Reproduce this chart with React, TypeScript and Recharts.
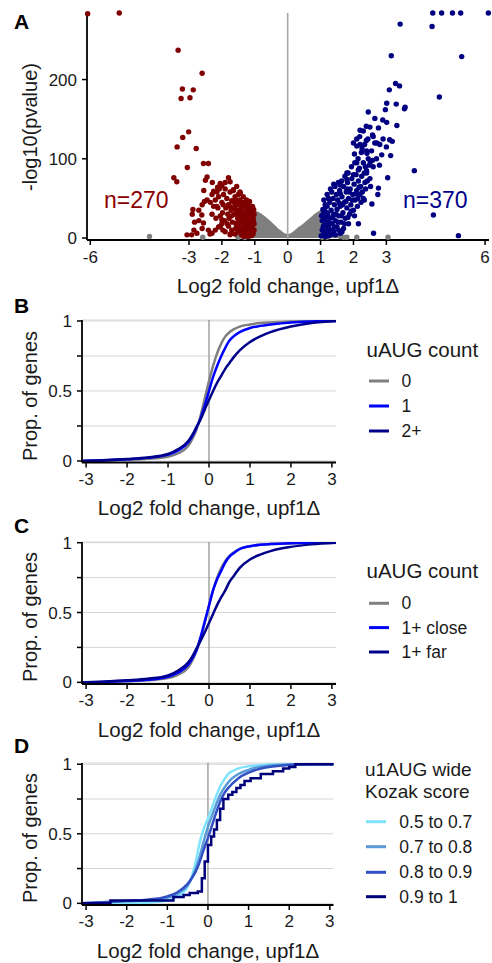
import React from "react";
import {
  ComposedChart,
  LineChart,
  Line,
  Area,
  Scatter,
  XAxis,
  YAxis,
  CartesianGrid,
  ReferenceLine,
} from "recharts";

// ---------- data: panel A (volcano) ----------
const volcanoTicksX = [-6, -3, -2, -1, 0, 1, 2, 3, 6];
const volcanoTicksY = [0, 100, 200];

// dense grey core of non-significant genes: upper edge of the cloud
const coreX = [-1.6, -1.35, -1.15, -1.05, -0.95, -0.85, -0.75, -0.65, -0.55, -0.45, -0.35, -0.25, -0.15, -0.05, 0, 0.05, 0.15, 0.25, 0.35, 0.45, 0.55, 0.65, 0.75, 0.85, 0.95, 1.05, 1.15, 1.35, 1.6];
const coreY = [2, 6, 35, 34, 32, 30, 27, 23.5, 20, 16, 12, 8.5, 5.5, 3.5, 3, 3.5, 5.5, 8.5, 12, 15, 18.5, 22, 25.5, 29, 32, 34, 35, 5, 2];

const greyGenes = [
  [-4.2, 2], [-2.58, 1], [-1.5, 1], [-1.3, 0.5], [1.05, 1], [1.2, 1], [1.6, 2],
  [1.7, 1], [1.8, 1], [2.1, 1], [3.05, 1],
];

const downGenes = [
  [-6.08, 283], [-5.12, 284], [-3.33, 237], [-2.6, 208], [-3.2, 188], [-2.87, 187],
  [-3.24, 176], [-2.97, 177], [-3.01, 134], [-3.19, 127], [-3.36, 115], [-2.78, 113],
  [-3.05, 89], [-3.46, 76], [-3.37, 71], [-2.56, 94], [-2.41, 94], [-2.88, 36],
  [-2.83, 20], [-2.92, 4], [-3.06, 4], [-2.76, 6], [-2.61, 29], [-2.56, 19], [-2.41, 10],
  [-2.36, 5], [-2.53, 46], [-2.45, 77], [-2.5, 73], [-2.29, 70], [-2.05, 69],
  [-1.8, 76], [-1.75, 71], [-2.13, 64], [-2.25, 59], [-1.97, 10], [-1.75, 4],
  [-2.0, 23], [-2.05, 15], [-2.15, 40], [-1.44, 57], [-1.65, 61],
  [-2.2, 48], [-2.1, 52], [-2.0, 45], [-1.95, 55], [-1.9, 62], [-1.85, 50], [-1.8, 42],
  [-1.75, 58], [-1.7, 47], [-1.65, 38], [-1.6, 52], [-1.55, 44], [-1.5, 35], [-1.5, 55],
  [-1.45, 28], [-1.45, 48], [-1.4, 40], [-1.4, 20], [-1.35, 33], [-1.35, 52], [-1.3, 25],
  [-1.3, 44], [-1.25, 15], [-1.25, 37], [-1.2, 30], [-1.2, 8], [-1.15, 22], [-1.15, 40],
  [-1.1, 12], [-1.1, 32], [-1.05, 5], [-1.05, 25], [-1.02, 18], [-1.08, 28], [-1.12, 35],
  [-1.18, 18], [-1.22, 26], [-1.28, 10], [-1.32, 18], [-1.38, 12], [-1.42, 30], [-1.48, 18],
  [-1.52, 25], [-1.58, 12], [-1.62, 30], [-1.68, 20], [-1.72, 35], [-1.78, 25], [-1.82, 30],
  [-1.88, 38], [-1.92, 22], [-1.98, 32], [-2.05, 28], [-2.12, 38], [-2.18, 25], [-2.25, 40],
  [-2.3, 30], [-2.35, 45], [-2.45, 48], [-2.55, 60], [-2.6, 42], [-2.7, 35], [-1.6, 5],
  [-1.5, 8], [-1.4, 4], [-1.3, 3], [-1.2, 2], [-1.1, 3], [-1.7, 10], [-1.8, 15], [-1.9, 8],
  [-2.0, 18], [-2.1, 14], [-2.2, 10], [-2.3, 6], [-1.35, 40], [-1.25, 48], [-1.15, 10],
  [-1.45, 58], [-1.55, 65], [-1.65, 60], [-1.9, 70], [-2.0, 66], [-2.15, 58], [-2.3, 55],
  [-1.02, 30], [-1.06, 12], [-1.12, 20], [-1.18, 42], [-1.24, 5], [-1.32, 28], [-1.38, 45],
  [-1.44, 8], [-1.56, 35], [-1.64, 45], [-1.74, 5], [-1.84, 18], [-1.96, 42], [-2.08, 62],
  [-1.05, 8], [-1.08, 20], [-1.1, 26], [-1.12, 15], [-1.15, 30], [-1.18, 24], [-1.2, 12],
  [-1.22, 36], [-1.25, 20], [-1.28, 32], [-1.3, 14], [-1.33, 22], [-1.36, 8], [-1.4, 26],
  [-1.43, 36], [-1.46, 14], [-1.5, 22], [-1.53, 30], [-1.57, 18], [-1.6, 40], [-1.03, 36],
  [-1.07, 40], [-1.16, 46], [-1.26, 42], [-1.02, 10], [-1.04, 22], [-1.14, 4], [-1.34, 2],
  [-1.48, 42], [-1.58, 48], [-1.7, 28], [-1.76, 40], [-2.6, 12], [-2.7, 22], [-2.9, 30],
  [-2.85, 10],
];

const upGenes = [
  [4.41, 284], [4.68, 284], [5.01, 284], [5.26, 284], [6.1, 284], [4.39, 267], [3.42, 270],
  [5.29, 229], [3.15, 230], [4.61, 178], [3.28, 195], [3.4, 192], [3.09, 187], [3.01, 170],
  [3.3, 169], [3.57, 165], [3.55, 163], [2.97, 162], [2.45, 159], [2.65, 151], [2.89, 149],
  [3.01, 146], [3.32, 142], [2.76, 139], [2.39, 141], [2.2, 136], [2.58, 130], [3.1, 124],
  [3.18, 122], [2.71, 120], [2.39, 123], [2.19, 128], [2.1, 116], [2.26, 113], [2.03, 106],
  [2.41, 107], [2.86, 105], [3.13, 104], [3.85, 85], [2.79, 92], [2.51, 96], [2.36, 90],
  [2.1, 95], [2.15, 86], [3.04, 76], [2.4, 82], [2.0, 80], [1.8, 82], [1.8, 74], [2.76, 63],
  [2.74, 55], [2.33, 48], [2.56, 43], [1.6, 67], [4.43, 29], [5.19, 3], [2.61, 6], [2.15, 18],
  [1.02, 3], [1.05, 10], [1.05, 22], [1.08, 30], [1.1, 5], [1.1, 16], [1.12, 36], [1.15, 26],
  [1.18, 8], [1.2, 20], [1.2, 40], [1.22, 30], [1.25, 12], [1.28, 45], [1.3, 25], [1.3, 4],
  [1.32, 35], [1.35, 18], [1.38, 50], [1.4, 8], [1.4, 30], [1.42, 42], [1.45, 22], [1.48, 55],
  [1.5, 14], [1.5, 36], [1.52, 48], [1.55, 28], [1.58, 60], [1.6, 6], [1.6, 40], [1.62, 20],
  [1.65, 52], [1.68, 32], [1.7, 65], [1.7, 12], [1.72, 45], [1.75, 25], [1.78, 58], [1.8, 38],
  [1.82, 70], [1.85, 18], [1.85, 50], [1.88, 30], [1.9, 62], [1.92, 42], [1.95, 75], [1.98, 55],
  [2.0, 35], [2.02, 68], [2.05, 48], [2.08, 80], [2.1, 60], [2.12, 40], [2.15, 72], [2.18, 88],
  [2.2, 55], [2.22, 65], [2.25, 78], [2.3, 95], [2.3, 50], [2.35, 70], [2.4, 85], [2.45, 100],
  [2.5, 75], [2.55, 110], [2.6, 90], [1.15, 2], [1.25, 3], [1.35, 6], [1.45, 4], [1.55, 10],
  [1.65, 8], [1.08, 14], [1.12, 24], [1.18, 32], [1.22, 14], [1.28, 18], [1.33, 10], [1.37, 26],
  [1.43, 14], [1.47, 30], [1.53, 20], [1.57, 44], [1.63, 28], [1.67, 42], [1.73, 18], [1.77, 46],
  [1.83, 26], [1.87, 58], [1.93, 34], [1.97, 48], [2.03, 28], [2.07, 56], [2.13, 50], [2.17, 64],
  [2.23, 45], [2.27, 58], [2.33, 82], [2.37, 62], [2.42, 72], [2.48, 92], [2.52, 65], [2.58, 98],
  [2.65, 120], [2.7, 100], [2.8, 118], [1.03, 28], [1.07, 36], [1.14, 42], [1.24, 50], [1.34, 58],
  [1.44, 65], [1.54, 70], [1.64, 72], [1.74, 78], [1.84, 82], [1.94, 90], [2.04, 95], [2.14, 100],
  [2.24, 108], [2.34, 118], [2.44, 125], [1.1, 48], [1.2, 55], [1.3, 62], [1.4, 68], [1.6, 56],
  [1.8, 62], [2.0, 120], [2.1, 125], [2.2, 118], [2.3, 135], [2.4, 110], [2.5, 140], [2.6, 128],
  [2.9, 125], [3.0, 115],
];

const downLabel = "n=270";
const upLabel = "n=370";

// ---------- data: panels B-D (cumulative distributions) ----------
const cdfTicksX = [-3, -2, -1, 0, 1, 2, 3];
const cdfTicksY = [0, 0.25, 0.5, 0.75, 1];
const cdfX = [-3.1, -2.5, -2, -1.5, -1, -0.75, -0.5, -0.4, -0.3, -0.2, -0.1, 0, 0.1, 0.2, 0.3, 0.4, 0.5, 0.6, 0.75, 1, 1.25, 1.5, 2, 2.5, 3.1];

const bGroups = ["0", "1", "2+"];
const bZero = [0, 0.003, 0.008, 0.015, 0.03, 0.055, 0.11, 0.16, 0.23, 0.33, 0.45, 0.57, 0.68, 0.77, 0.84, 0.89, 0.92, 0.94, 0.96, 0.975, 0.985, 0.99, 0.996, 0.999, 1];
const bOne = [0, 0.005, 0.012, 0.022, 0.045, 0.075, 0.135, 0.18, 0.24, 0.31, 0.4, 0.5, 0.6, 0.68, 0.75, 0.81, 0.86, 0.89, 0.92, 0.95, 0.965, 0.975, 0.99, 0.997, 1];
const bTwoPlus = [0, 0.006, 0.014, 0.025, 0.05, 0.085, 0.145, 0.19, 0.245, 0.3, 0.37, 0.435, 0.5, 0.56, 0.61, 0.66, 0.7, 0.74, 0.79, 0.85, 0.89, 0.92, 0.96, 0.985, 1];

const cGroups = ["0", "1+ close", "1+ far"];
const cZero = [0, 0.003, 0.008, 0.015, 0.03, 0.055, 0.11, 0.16, 0.23, 0.32, 0.43, 0.55, 0.66, 0.75, 0.82, 0.87, 0.905, 0.93, 0.955, 0.975, 0.985, 0.99, 0.996, 0.999, 1];
const cClose = [0, 0.004, 0.01, 0.018, 0.04, 0.07, 0.13, 0.175, 0.235, 0.33, 0.44, 0.55, 0.66, 0.74, 0.8, 0.86, 0.9, 0.925, 0.955, 0.975, 0.985, 0.99, 0.996, 0.999, 1];
const cFar = [0, 0.006, 0.014, 0.025, 0.05, 0.085, 0.145, 0.19, 0.245, 0.3, 0.36, 0.425, 0.49, 0.555, 0.61, 0.66, 0.72, 0.76, 0.82, 0.88, 0.915, 0.94, 0.97, 0.988, 1];

const dGroups = ["0.5 to 0.7", "0.7 to 0.8", "0.8 to 0.9", "0.9 to 1"];
const dLow = [0, 0, 0, 0.005, 0.02, 0.05, 0.12, 0.19, 0.3, 0.44, 0.54, 0.61, 0.69, 0.77, 0.84, 0.89, 0.93, 0.95, 0.97, 0.985, 0.993, 0.998, 1, 1, 1];
const dMid = [0, 0.008, 0.015, 0.022, 0.04, 0.07, 0.13, 0.18, 0.25, 0.34, 0.45, 0.55, 0.63, 0.71, 0.78, 0.83, 0.87, 0.9, 0.93, 0.96, 0.98, 0.99, 0.998, 1, 1];
const dHigh = [0, 0.01, 0.018, 0.026, 0.05, 0.08, 0.14, 0.18, 0.23, 0.3, 0.39, 0.47, 0.56, 0.65, 0.73, 0.79, 0.83, 0.86, 0.9, 0.94, 0.965, 0.98, 0.995, 1, 1];
// the strongest Kozak group is small, so its curve is a visible step function
const dTopX = [-3.1, -2.4, -0.85, -0.6, -0.45, -0.25, -0.15, -0.08, 0, 0.08, 0.15, 0.22, 0.3, 0.38, 0.5, 0.6, 0.7, 0.8, 0.9, 1.05, 1.3, 1.6, 1.85, 2.0, 2.15, 3.1];
const dTopY = [0, 0.02, 0.045, 0.06, 0.075, 0.085, 0.18, 0.3, 0.42, 0.48, 0.53, 0.6, 0.68, 0.75, 0.78, 0.8, 0.83, 0.85, 0.88, 0.9, 0.93, 0.95, 0.97, 0.98, 1, 1];

// ---------- styles ----------
const FONT = "'Liberation Sans', Arial, Helvetica, sans-serif";
const TEXT = "#1a1a1a";
const GREY = "#7f7f7f";
const RED = "#800000";
const NAVY = "#000080";
const bColors = [GREY, "#0000ff", "#00008b"];
const cColors = [GREY, "#0000ff", "#00008b"];
const dColors = ["#80e4ff", "#5a9ad6", "#3050c4", "#00007a"];

const axisLine = { stroke: "#000", strokeWidth: 1.8 };
const tickLine = { stroke: "#000", strokeWidth: 1.5 };
const tickText = { fontSize: 17, fill: TEXT, fontFamily: FONT };

const dot = (color: string) => (p: any) =>
  <circle cx={p.cx} cy={p.cy} r={2.7} fill={color} />;

const toPoints = (pairs: number[][]) => pairs.map(([x, y]) => ({ x, y }));

const coreRows = coreX.map((x, i) => ({ x, y: coreY[i] }));

const rowsFrom = (cols: number[][]) =>
  cdfX.map((x, i) => {
    const row: any = { x };
    cols.forEach((c, k) => (row["s" + k] = c[i]));
    return row;
  });

const cdfLabel = (v: number) => (v === 0.25 || v === 0.75 ? "" : String(v));

function Volcano() {
  return (
    <ComposedChart
      width={492}
      height={300}
      data={coreRows}
      margin={{ top: 13, right: 3, bottom: 0, left: 27 }}
      style={{ fontFamily: FONT }}
    >
      <XAxis
        dataKey="x"
        type="number"
        domain={[-6.1, 6.12]}
        ticks={volcanoTicksX}
        interval={0}
        height={60}
        tickSize={5}
        tickMargin={6}
        axisLine={axisLine}
        tickLine={tickLine}
        tick={tickText}
      />
      <YAxis
        dataKey="y"
        type="number"
        domain={[-2.5, 284]}
        ticks={volcanoTicksY}
        interval={0}
        width={60}
        tickSize={5}
        tickMargin={5}
        axisLine={axisLine}
        tickLine={tickLine}
        tick={tickText}
      />
      <ReferenceLine x={0} stroke="#a8a8a8" strokeWidth={1.6} />
      <Area
        dataKey="y"
        type="monotone"
        baseValue={0}
        fill={GREY}
        fillOpacity={1}
        stroke={GREY}
        strokeWidth={3}
        isAnimationActive={false}
      />
      <Scatter data={toPoints(greyGenes)} shape={dot(GREY)} isAnimationActive={false} />
      <Scatter data={toPoints(downGenes)} shape={dot(RED)} isAnimationActive={false} />
      <Scatter data={toPoints(upGenes)} shape={dot(NAVY)} isAnimationActive={false} />
    </ComposedChart>
  );
}

function CdfPanel(props: {
  height: number;
  top: number;
  right: number;
  xAxisHeight: number;
  xDomain: number[];
  yDomain: number[];
  cols: number[][];
  colors: string[];
  step?: { x: number[]; y: number[]; color: string };
}) {
  const rows = rowsFrom(props.cols);
  return (
    <LineChart
      width={492}
      height={props.height}
      data={rows}
      margin={{ top: props.top, right: props.right, bottom: 0, left: 22 }}
      style={{ fontFamily: FONT }}
    >
      <CartesianGrid vertical={false} stroke="#d6d6d6" strokeWidth={1} />
      <XAxis
        dataKey="x"
        type="number"
        domain={props.xDomain}
        ticks={cdfTicksX}
        interval={0}
        allowDataOverflow
        height={props.xAxisHeight}
        tickSize={5}
        tickMargin={5}
        axisLine={axisLine}
        tickLine={tickLine}
        tick={tickText}
      />
      <YAxis
        type="number"
        domain={props.yDomain}
        ticks={cdfTicksY}
        interval={0}
        allowDataOverflow
        width={60}
        tickSize={5}
        tickMargin={5}
        tickFormatter={cdfLabel}
        axisLine={axisLine}
        tickLine={tickLine}
        tick={tickText}
      />
      <ReferenceLine x={0} stroke="#8a8a8a" strokeWidth={1.2} />
      {props.cols.map((_, k) => (
        <Line
          key={k}
          dataKey={"s" + k}
          type="monotone"
          stroke={props.colors[k]}
          strokeWidth={2.5}
          dot={false}
          isAnimationActive={false}
        />
      ))}
      {props.step && (
        <Line
          data={props.step.x.map((x, i) => ({ x, step: props.step!.y[i] }))}
          dataKey="step"
          type="stepAfter"
          stroke={props.step.color}
          strokeWidth={2.5}
          dot={false}
          isAnimationActive={false}
        />
      )}
    </LineChart>
  );
}

function Legend(props: {
  titles: string[];
  titleX: number;
  titleY: number;
  titleSize?: number;
  names: string[];
  colors: string[];
  swatchX: number;
  labelX: number;
  itemY: number[];
}) {
  return (
    <g>
      {props.titles.map((t, i) => (
        <text
          key={t}
          x={props.titleX}
          y={props.titleY + i * 21.5}
          fontSize={props.titleSize ?? 20.5}
          fill={TEXT}
        >
          {t}
        </text>
      ))}
      {props.names.map((n, i) => (
        <g key={n}>
          <line
            x1={props.swatchX}
            x2={props.swatchX + 20}
            y1={props.itemY[i]}
            y2={props.itemY[i]}
            stroke={props.colors[i]}
            strokeWidth={3}
          />
          <text x={props.labelX} y={props.itemY[i] + 6} fontSize={17.5} fill={TEXT}>
            {n}
          </text>
        </g>
      ))}
    </g>
  );
}

function YTitle({ cy, text }: { cy: number; text: string }) {
  return (
    <text
      x={37}
      y={cy}
      transform={`rotate(-90 37 ${cy})`}
      textAnchor="middle"
      fontSize={20}
      fill={TEXT}
    >
      {text}
    </text>
  );
}

function XTitle({ cx, y }: { cx: number; y: number }) {
  return (
    <text x={cx} y={y} textAnchor="middle" fontSize={20.5} fill={TEXT}>
      Log2 fold change, upf1Δ
    </text>
  );
}

export default function App() {
  const place = (top: number): React.CSSProperties => ({ position: "absolute", left: 0, top });
  return (
    <div style={{ position: "absolute", left: 0, top: 0, width: 492, height: 963, background: "#fff", fontFamily: FONT }}>
      <div style={place(0)}>
        <Volcano />
      </div>
      <div style={place(300)}>
        <CdfPanel
          height={220}
          top={20}
          right={156}
          xAxisHeight={57.5}
          xDomain={[-3.1, 3.1]}
          yDomain={[-0.011, 1.007]}
          cols={[bZero, bOne, bTwoPlus]}
          colors={bColors}
        />
      </div>
      <div style={place(520)}>
        <CdfPanel
          height={220}
          top={22}
          right={156}
          xAxisHeight={56}
          xDomain={[-3.1, 3.1]}
          yDomain={[-0.012, 1.005]}
          cols={[cZero, cClose, cFar]}
          colors={cColors}
        />
      </div>
      <div style={place(740)}>
        <CdfPanel
          height={223}
          top={23}
          right={158.5}
          xAxisHeight={58}
          xDomain={[-3.1, 3.09]}
          yDomain={[-0.012, 1.009]}
          cols={[dLow, dMid, dHigh]}
          colors={dColors}
          step={{ x: dTopX, y: dTopY, color: dColors[3] }}
        />
      </div>
      <svg
        width={492}
        height={963}
        style={{ position: "absolute", left: 0, top: 0, pointerEvents: "none", fontFamily: FONT }}
      >
        <g fontWeight="bold" fontSize={21} fill="#000">
          <text x={14} y={28.5}>A</text>
          <text x={14} y={313}>B</text>
          <text x={14} y={532.5}>C</text>
          <text x={14} y={752.5}>D</text>
        </g>
        <text x={104} y={207.5} fontSize={23} fill="#8b0000">{downLabel}</text>
        <text x={403} y={207.5} fontSize={23} fill="#00008b">{upLabel}</text>

        <YTitle cy={127} text="-log10(pvalue)" />
        <YTitle cy={396} text="Prop. of genes" />
        <YTitle cy={617} text="Prop. of genes" />
        <YTitle cy={838} text="Prop. of genes" />

        <XTitle cx={288} y={292.7} />
        <XTitle cx={209} y={515} />
        <XTitle cx={209} y={736.7} />
        <XTitle cx={208} y={958.3} />

        <Legend
          titles={["uAUG count"]}
          titleX={366.5}
          titleY={357}
          names={bGroups}
          colors={bColors}
          swatchX={369}
          labelX={401.5}
          itemY={[381, 406, 431]}
        />
        <Legend
          titles={["uAUG count"]}
          titleX={366.5}
          titleY={578.3}
          names={cGroups}
          colors={cColors}
          swatchX={369}
          labelX={401.5}
          itemY={[603.3, 627.6, 652]}
        />
        <Legend
          titles={["u1AUG wide", "Kozak score"]}
          titleX={365}
          titleY={776}
          titleSize={19}
          names={dGroups}
          colors={dColors}
          swatchX={366}
          labelX={399.3}
          itemY={[821.7, 846.7, 872.3, 896.7]}
        />
      </svg>
    </div>
  );
}
